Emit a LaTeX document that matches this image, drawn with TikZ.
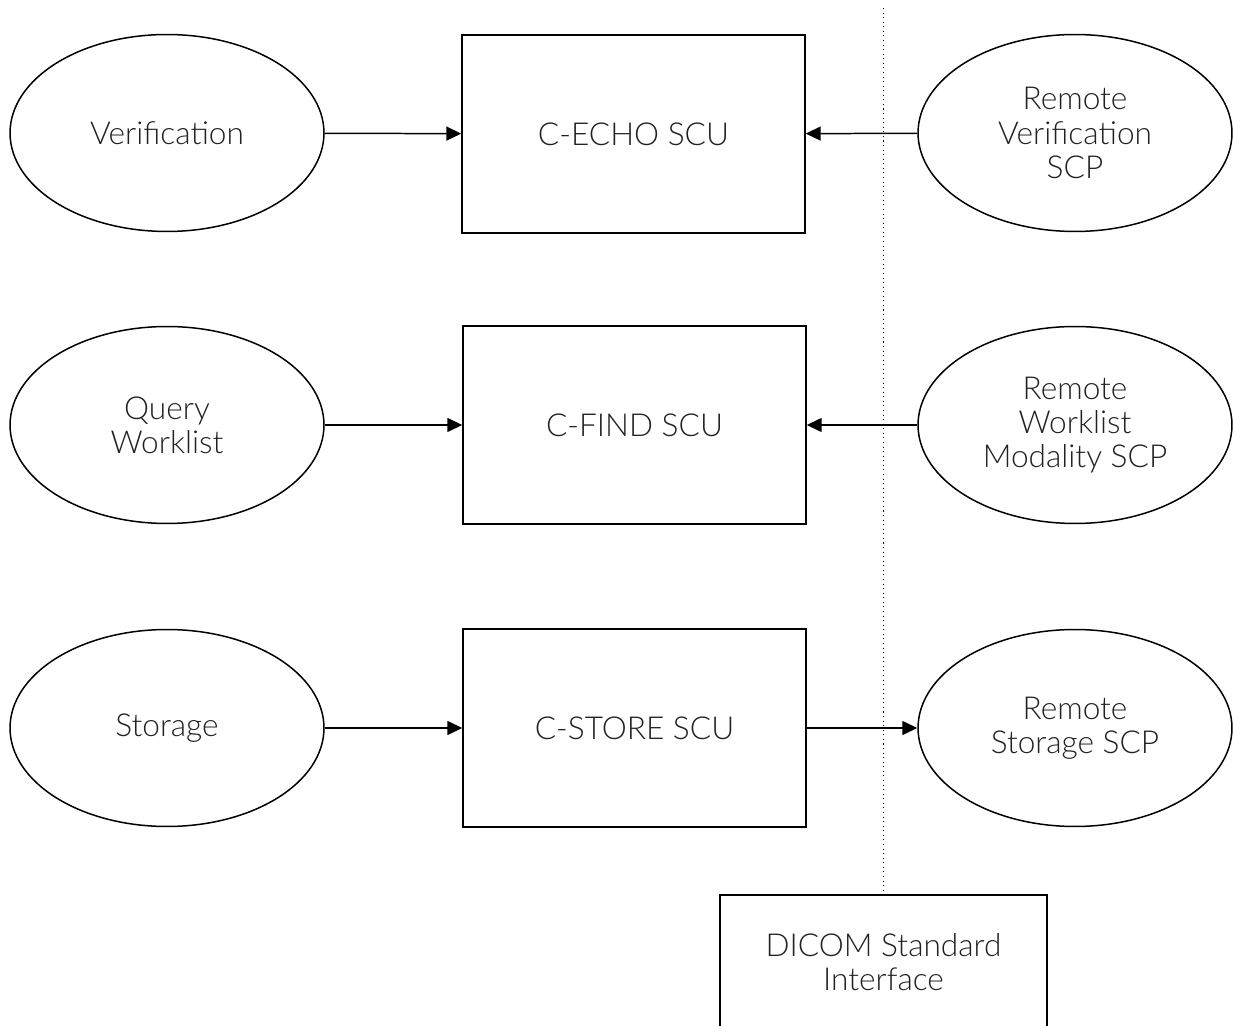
\documentclass[tikz,border=0pt]{standalone}
\usepackage{fontspec}
\setmainfont{Lato Light}
\usetikzlibrary{arrows.meta,shapes.geometric}

\tikzset{
  svc/.style={ellipse,draw,line width=0.85pt,minimum width=6.28cm,minimum height=3.94cm,
    align=center,inner sep=0pt,font=\fontsize{18}{19.4}\selectfont,text=black!87},
  scu/.style={rectangle,draw,line width=0.85pt,minimum width=6.86cm,minimum height=3.96cm,
    align=center,inner sep=0pt,font=\fontsize{18}{19.4}\selectfont,text=black!87},
  flow/.style={line width=0.85pt,-{Triangle[length=0.3cm,width=0.28cm]}}
}

\begin{document}
\begin{tikzpicture}[x=0.02cm,y=-0.02cm]
\useasboundingbox (0,0) rectangle (1233,1026);
% local applications
\node[svc] (verif) at (167,133) {Verification};
\node[svc] (query) at (167,425) {Query\\Worklist};
\node[svc] (store) at (167,728) {Storage};
% service class users
\node[scu] (echo) at (633.5,134) {C-ECHO SCU};
\node[scu] (find) at (634.5,425) {C-FIND SCU};
\node[scu] (cstore) at (634.5,728) {C-STORE SCU};
% remote side
\node[svc] (rverif) at (1075,133) {Remote\\Verification\\SCP};
\node[svc] (rwork) at (1075,425) {Remote\\Worklist\\Modality SCP};
\node[svc] (rstore) at (1075,728) {Remote\\Storage SCP};
\node[scu,minimum width=6.54cm,minimum height=2.68cm] (dicom) at (883.5,962) {DICOM Standard\\Interface};
% boundary
\coordinate (btop) at (883.5,8);
\draw[dotted,line width=0.6pt] (btop) -- (dicom.north);
% connectors
\draw[flow] (verif) -- (echo);
\draw[flow] (query) -- (find);
\draw[flow] (store) -- (cstore);
\draw[flow] (rverif) -- (echo);
\draw[flow] (rwork) -- (find);
\draw[flow] (cstore) -- (rstore);
\end{tikzpicture}
\end{document}
